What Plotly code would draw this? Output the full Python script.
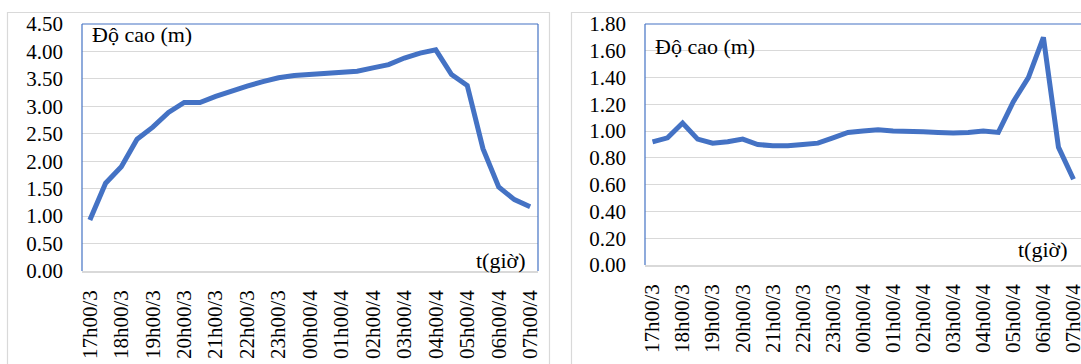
import plotly.graph_objects as go

# Half-hourly time steps from 17h00 on the 3rd to 07h00 on the 4th
n_steps = 29
tick_labels = ["17h00/3", "18h00/3", "19h00/3", "20h00/3", "21h00/3", "22h00/3",
               "23h00/3", "00h00/4", "01h00/4", "02h00/4", "03h00/4", "04h00/4",
               "05h00/4", "06h00/4", "07h00/4"]

# Water height (m), station 1
height_a = [0.93, 1.60, 1.90, 2.40, 2.62, 2.89, 3.07, 3.07, 3.18, 3.28,
            3.37, 3.45, 3.52, 3.56, 3.58, 3.59, 3.62, 3.64, 3.70, 3.76,
            3.88, 3.97, 4.03, 3.58, 3.38, 2.23, 1.53, 1.30, 1.17]

# Water height (m), station 2
height_b = [0.92, 0.95, 1.06, 0.94, 0.91, 0.92, 0.94, 0.90, 0.89, 0.89,
            0.90, 0.91, 0.95, 0.99, 1.00, 1.01, 1.00, 1.00, 0.995, 0.99,
            0.985, 0.99, 1.00, 0.99, 1.22, 1.40, 1.70, 0.88, 0.64]

steps = list(range(n_steps))
tick_pos = steps[::2]

W, H = 1081, 364
BLUE = "#4472C4"
GRID = "#d9d9d9"
FONT = "Liberation Serif, Times New Roman, serif"


def px_x(p):
    return p / W


def px_y(p):
    return 1 - p / H


fig = go.Figure()
fig.add_trace(go.Scatter(x=steps, y=height_a, mode="lines",
                         line=dict(color=BLUE, width=5), xaxis="x", yaxis="y",
                         showlegend=False, hoverinfo="skip"))
fig.add_trace(go.Scatter(x=steps, y=height_b, mode="lines",
                         line=dict(color=BLUE, width=5), xaxis="x2", yaxis="y2",
                         showlegend=False, hoverinfo="skip"))

xaxis_common = dict(
    range=[-0.5, n_steps - 0.5], tickmode="array", tickvals=tick_pos,
    ticktext=tick_labels, tickangle=-90, showgrid=False, zeroline=False,
    showline=True, linecolor=GRID, linewidth=1.5, ticks="",
    tickfont=dict(family=FONT, size=21, color="black"), ticklabelstandoff=9,
    ticklabeloverflow="allow", automargin=False, fixedrange=True,
)
yaxis_common = dict(
    showgrid=True, gridcolor=GRID, gridwidth=1.3, zeroline=False,
    showline=False, ticks="", tickformat=".2f",
    tickfont=dict(family=FONT, size=21, color="black"), ticklabelstandoff=18,
    ticklabeloverflow="allow", automargin=False, fixedrange=True,
)

# Plot areas in pixels: left 82-538 x 24-271, right 645-1081 x 24-265
fig.update_layout(
    width=W, height=H, margin=dict(l=0, r=0, t=0, b=0, pad=0),
    paper_bgcolor="white", plot_bgcolor="white",
    xaxis=dict(domain=[px_x(82), px_x(538)], anchor="y", **xaxis_common),
    yaxis=dict(domain=[px_y(271), px_y(24)], anchor="x", range=[0, 4.5],
               dtick=0.5, **yaxis_common),
    xaxis2=dict(domain=[px_x(645), 1.0], anchor="y2", **xaxis_common),
    yaxis2=dict(domain=[px_y(265), px_y(24)], anchor="x2", range=[0, 1.8],
                dtick=0.2, **yaxis_common),
)

shapes = [
    # chart frames
    dict(type="rect", xref="paper", yref="paper", x0=px_x(7.5), x1=px_x(549.5),
         y0=-0.05, y1=px_y(12.5), line=dict(color=GRID, width=1.2), layer="below"),
    dict(type="rect", xref="paper", yref="paper", x0=px_x(571.5), x1=1.05,
         y0=-0.05, y1=px_y(12.5), line=dict(color=GRID, width=1.2), layer="below"),
    # plot-area borders (left, top, right)
    dict(type="line", xref="x domain", yref="y domain", x0=0, x1=0, y0=0, y1=1,
         line=dict(color=BLUE, width=1.2), layer="above"),
    dict(type="line", xref="x domain", yref="y domain", x0=0, x1=1, y0=1, y1=1,
         line=dict(color=BLUE, width=1.2), layer="above"),
    dict(type="line", xref="x domain", yref="y domain", x0=1, x1=1, y0=0, y1=1,
         line=dict(color=BLUE, width=1.2), layer="above"),
    dict(type="line", xref="x2 domain", yref="y2 domain", x0=0, x1=0, y0=0, y1=1,
         line=dict(color=BLUE, width=1.2), layer="above"),
    dict(type="line", xref="x2 domain", yref="y2 domain", x0=0, x1=1, y0=1, y1=1,
         line=dict(color=BLUE, width=1.2), layer="above"),
]
fig.update_layout(shapes=shapes)

label_font = dict(family=FONT, size=22, color="black")
fig.update_layout(annotations=[
    dict(text="Độ cao (m)", xref="x domain", yref="y domain", x=0.017, y=0.958,
         xanchor="left", yanchor="middle", showarrow=False, font=label_font),
    dict(text="t(giờ)", xref="x domain", yref="y domain", x=0.978, y=0.044,
         xanchor="right", yanchor="middle", showarrow=False, font=label_font),
    dict(text="Độ cao (m)", xref="x2 domain", yref="y2 domain", x=0.019, y=0.906,
         xanchor="left", yanchor="middle", showarrow=False, font=label_font),
    dict(text="t(giờ)", xref="x2 domain", yref="y2 domain", x=0.975, y=0.066,
         xanchor="right", yanchor="middle", showarrow=False, font=label_font),
])

fig.write_html("out.html")
